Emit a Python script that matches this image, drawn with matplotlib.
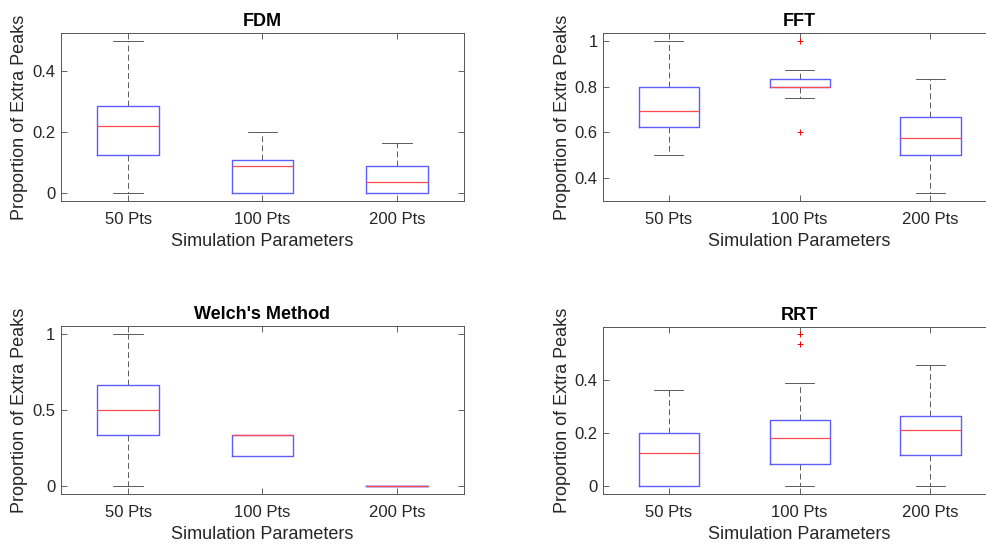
import matplotlib
matplotlib.use("Agg")
import matplotlib.pyplot as plt

plt.rcParams["font.family"] = ["Liberation Sans", "DejaVu Sans"]

CATEGORIES = ["50 Pts", "100 Pts", "200 Pts"]
TITLES = ["FDM", "FFT", "Welch's Method", "RRT"]

# per group: [whisker_low, q1, median, q3, whisker_high]
FDM_STATS = [
    [0.0, 0.125, 0.222, 0.2857, 0.5],
    [0.0, 0.0, 0.0909, 0.111, 0.2],
    [0.0, 0.0, 0.0357, 0.0909, 0.1667],
]
FFT_STATS = [
    [0.5, 0.625, 0.692, 0.8, 1.0],
    [0.75, 0.8, 0.8, 0.8333, 0.875],
    [0.3333, 0.5, 0.574, 0.6667, 0.8333],
]
WELCH_STATS = [
    [0.0, 0.3333, 0.5, 0.6667, 1.0],
    [0.2, 0.2, 0.3333, 0.3333, 0.3333],
    [0.0, 0.0, 0.0, 0.0, 0.0],
]
RRT_STATS = [
    [0.0, 0.0, 0.125, 0.2, 0.3636],
    [0.0, 0.0833, 0.1818, 0.25, 0.39],
    [0.0, 0.1176, 0.2105, 0.2632, 0.4571],
]

FDM_FLIERS = [[], [], []]
FFT_FLIERS = [[], [1.0, 0.6], []]
WELCH_FLIERS = [[], [], []]
RRT_FLIERS = [[], [0.5714, 0.5333], []]

YTICKS = [[0, 0.2, 0.4], [0.4, 0.6, 0.8, 1], [0, 0.5, 1], [0, 0.2, 0.4]]
YTICKLABELS = [["0", "0.2", "0.4"], ["0.4", "0.6", "0.8", "1"],
               ["0", "0.5", "1"], ["0", "0.2", "0.4"]]

ALL_STATS = [FDM_STATS, FFT_STATS, WELCH_STATS, RRT_STATS]
ALL_FLIERS = [FDM_FLIERS, FFT_FLIERS, WELCH_FLIERS, RRT_FLIERS]

# axes rectangles in figure fraction [left, bottom, width, height]
RECTS = [
    [0.0618, 0.6332, 0.4083, 0.3060],
    [0.6113, 0.6332, 0.3977, 0.3060],
    [0.0618, 0.0985, 0.4083, 0.3066],
    [0.6113, 0.0985, 0.3977, 0.3054],
]

TXT = "#262626"


def make_stats(rows, fliers):
    out = []
    for r, f in zip(rows, fliers):
        out.append({"whislo": r[0], "q1": r[1], "med": r[2], "q3": r[3],
                    "whishi": r[4], "fliers": f})
    return out


def draw_panel(ax, stats, fliers, title, yt, ytl):
    bs = make_stats(stats, fliers)
    ax.bxp(bs, positions=[1, 2, 3], widths=0.46, showfliers=True,
           boxprops=dict(color="#5c5cff", lw=1.0, zorder=3),
           medianprops=dict(color="#ff4a4a", lw=0.9, zorder=4),
           whiskerprops=dict(color="#404040", lw=0.6, linestyle=(0, (7, 4)),
                             zorder=2),
           capprops=dict(color="#404040", lw=0.6, zorder=2),
           capwidths=0.22,
           flierprops=dict(marker="+", markeredgecolor="#ff0000",
                           markersize=5, markeredgewidth=0.7,
                           linestyle="none", zorder=4))
    lows = [r[0] for r in stats] + [v for f in fliers for v in f]
    highs = [r[4] for r in stats] + [v for f in fliers for v in f]
    lo, hi = min(lows), max(highs)
    pad = 0.05 * (hi - lo)
    ax.set_ylim(lo - pad, hi + pad)
    ax.set_xlim(0.5, 3.5)
    ax.set_xticks([1, 2, 3])
    ax.set_xticklabels(CATEGORIES)
    ax.set_yticks(yt)
    ax.set_yticklabels(ytl)
    ax.tick_params(direction="in", top=True, right=True, length=4,
                   width=0.5, colors=TXT, labelsize=12)
    ax.tick_params(axis="x", pad=8)
    ax.tick_params(axis="y", pad=4)
    for s in ax.spines.values():
        s.set_color("#555555")
        s.set_linewidth(0.7)
    ax.set_title(title, fontsize=13, fontweight="bold", color="black", pad=5)
    ax.set_xlabel("Simulation Parameters", fontsize=13, color=TXT, labelpad=4)
    ax.set_ylabel("Proportion of Extra Peaks", fontsize=13, color=TXT,
                  labelpad=3)


def main():
    fig = plt.figure(figsize=(9.87, 5.48), dpi=100)
    for i in range(4):
        ax = fig.add_axes(RECTS[i])
        draw_panel(ax, ALL_STATS[i], ALL_FLIERS[i], TITLES[i],
                   YTICKS[i], YTICKLABELS[i])
    fig.savefig("out.png", dpi=100)
    plt.close(fig)


if __name__ == "__main__":
    main()
